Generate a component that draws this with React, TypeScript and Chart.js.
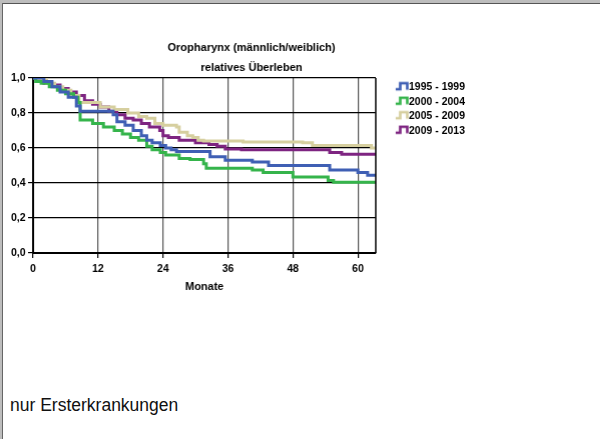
import { useEffect, useRef } from 'react';
import { Chart, registerables } from 'chart.js';

Chart.register(...registerables);

const FONT = "'Liberation Sans', Arial, sans-serif";

const titleLines = ['Oropharynx (männlich/weiblich)', 'relatives Überleben'];
const xAxisTitle = 'Monate';
const footnote = 'nur Ersterkrankungen';

const seriesLabels = ['1995 - 1999', '2000 - 2004', '2005 - 2009', '2009 - 2013'];
const seriesColors = ['#3f5fb4', '#35b44b', '#d6cf9f', '#7e2481'];

const xTickValues = [0, 12, 24, 36, 48, 60];
const xMax = 63.3;
const yTickValues = [0, 0.2, 0.4, 0.6, 0.8, 1.0];
const yTickLabels = ['0,0', '0,2', '0,4', '0,6', '0,8', '1,0'];

const blueMonths = [0, 2, 3.5, 5, 6.5, 8, 8.7, 14.8, 15.5, 17, 18.5, 20, 21, 22, 23.5, 24.5, 25.5, 26.5, 32.7, 35.5, 40.5, 43.5, 54.8, 60, 61.8, 63.3];
const blueValues = [1.0, 0.98, 0.95, 0.92, 0.89, 0.84, 0.81, 0.79, 0.75, 0.73, 0.70, 0.67, 0.645, 0.63, 0.615, 0.60, 0.59, 0.58, 0.55, 0.53, 0.52, 0.50, 0.475, 0.46, 0.445, 0.445];

const greenMonths = [0, 0.5, 1.5, 3, 4.5, 6, 7.5, 8.3, 8.7, 11, 13, 15, 16.5, 18, 19.5, 21, 22, 23.5, 24.5, 27, 29, 31.5, 32, 40.5, 42.5, 48, 54.5, 55.5, 63.3];
const greenValues = [1.0, 0.98, 0.97, 0.95, 0.93, 0.91, 0.89, 0.86, 0.76, 0.74, 0.72, 0.70, 0.68, 0.66, 0.645, 0.61, 0.59, 0.575, 0.56, 0.54, 0.535, 0.51, 0.485, 0.475, 0.46, 0.435, 0.415, 0.405, 0.405];

const khakiMonths = [0, 1, 2.5, 4, 5.5, 7, 8.5, 12.4, 15, 17.5, 19.5, 21, 22.5, 24, 26.5, 27, 28.5, 29.5, 30.5, 31.5, 38.8, 49.8, 51.6, 62.5, 63.3];
const khakiValues = [1.0, 0.99, 0.97, 0.95, 0.93, 0.90, 0.86, 0.835, 0.82, 0.80, 0.78, 0.77, 0.74, 0.73, 0.72, 0.69, 0.67, 0.66, 0.645, 0.64, 0.635, 0.63, 0.615, 0.60, 0.60];

const purpleMonths = [0, 1, 2, 3.5, 5, 6.5, 8, 9.5, 11, 12.4, 14, 15.5, 17, 18.5, 20, 21.5, 23.4, 24, 25, 27, 30, 32.5, 34, 35.5, 38.5, 54.8, 57, 63.3];
const purpleValues = [1.0, 0.99, 0.97, 0.96, 0.94, 0.92, 0.90, 0.87, 0.85, 0.835, 0.81, 0.79, 0.77, 0.76, 0.74, 0.72, 0.70, 0.67, 0.66, 0.645, 0.63, 0.62, 0.61, 0.595, 0.59, 0.575, 0.565, 0.565];

const seriesMonths = [blueMonths, greenMonths, khakiMonths, purpleMonths];
const seriesValues = [blueValues, greenValues, khakiValues, purpleValues];

function makeIcon(color: string): HTMLCanvasElement {
  const c = document.createElement('canvas');
  c.width = 36;
  c.height = 12;
  const ctx = c.getContext('2d')!;
  ctx.strokeStyle = color;
  ctx.lineWidth = 2.6;
  ctx.lineJoin = 'miter';
  ctx.beginPath();
  ctx.moveTo(22, 8);
  ctx.lineTo(26.5, 8);
  ctx.lineTo(26.5, 2);
  ctx.lineTo(33.5, 2);
  ctx.lineTo(33.5, 8.5);
  ctx.stroke();
  return c;
}

const framePlugin = {
  id: 'rightFrame',
  afterDatasetsDraw(chart: any) {
    const { ctx, chartArea } = chart;
    ctx.save();
    ctx.strokeStyle = '#000';
    ctx.lineWidth = 1.5;
    ctx.beginPath();
    ctx.moveTo(chartArea.right, chartArea.top);
    ctx.lineTo(chartArea.right, chartArea.bottom);
    ctx.stroke();
    ctx.restore();
  },
};

export default function App() {
  const ref = useRef<HTMLCanvasElement | null>(null);

  useEffect(() => {
    if (!ref.current) return;
    const datasets = seriesLabels.map((label, i) => ({
      label,
      data: seriesMonths[i].map((m, j) => ({ x: m, y: seriesValues[i][j] })),
      borderColor: seriesColors[i],
      backgroundColor: seriesColors[i],
      borderWidth: 3,
      pointRadius: 0,
      pointHoverRadius: 0,
      pointStyle: makeIcon(seriesColors[i]),
      stepped: true,
      fill: false,
      yAxisID: 'y',
    }));

    const chart = new Chart(ref.current, {
      type: 'line',
      data: { datasets } as any,
      options: {
        animation: false,
        responsive: true,
        maintainAspectRatio: false,
        layout: { padding: { left: 8.4, right: 0, top: 0, bottom: 4.2 } },
        plugins: {
          title: {
            display: true,
            text: titleLines,
            color: '#000',
            font: { family: FONT, size: 11, weight: 'bold', lineHeight: 1.8 },
            padding: { top: 38.4, bottom: 0 },
          },
          legend: {
            display: true,
            position: 'right',
            align: 'start',
            fullSize: false,
            labels: {
              usePointStyle: true,
              pointStyleWidth: 23.75,
              padding: 4,
              color: '#000',
              font: { family: FONT, size: 10.5, weight: 'bold' },
            },
          },
          tooltip: { enabled: false },
        },
        scales: {
          x: {
            type: 'linear',
            min: 0,
            max: xMax,
            afterBuildTicks: (scale: any) => {
              scale.ticks = xTickValues.map((v) => ({ value: v }));
            },
            ticks: {
              callback: (v: any) => String(v),
              color: '#000',
              font: { family: FONT, size: 10.5, weight: 'bold' },
              padding: 5,
              maxRotation: 0,
              autoSkip: false,
            },
            grid: { color: '#555', lineWidth: 1.2, tickLength: 5, tickColor: '#000', drawTicks: true },
            border: { display: true, color: '#000', width: 2 },
            title: {
              display: true,
              text: xAxisTitle,
              color: '#000',
              font: { family: FONT, size: 11, weight: 'bold' },
              padding: { top: 0, bottom: 2 },
            },
          },
          y: {
            type: 'linear',
            position: 'left',
            min: 0,
            max: 1,
            afterBuildTicks: (scale: any) => {
              scale.ticks = yTickValues.map((v) => ({ value: v }));
            },
            afterFit: (scale: any) => {
              scale.width = 24.6;
            },
            ticks: {
              callback: (v: any) => yTickLabels[yTickValues.indexOf(v)] ?? '',
              color: '#000',
              font: { family: FONT, size: 10.5, weight: 'bold' },
              padding: 2.5,
              autoSkip: false,
            },
            grid: { color: '#000', lineWidth: 1.2, tickLength: 5, tickColor: '#000', drawTicks: true },
            border: { display: true, color: '#000', width: 2 },
          },
          spacer: {
            type: 'linear',
            axis: 'y',
            position: 'right',
            weight: 2000,
            display: false,
            afterFit: (scale: any) => {
              scale.width = 19.6;
            },
          },
        },
      } as any,
      plugins: [framePlugin],
    });
    return () => chart.destroy();
  }, []);

  return (
    <div style={{ position: 'absolute', left: 0, top: 0, width: 600, height: 439, background: '#fff', overflow: 'hidden' }}>
      <div style={{ position: 'absolute', left: 0, top: 0, width: 600, height: 3, background: '#bdbdbd' }} />
      <div style={{ position: 'absolute', left: 0, top: 3, width: 600, height: 1, background: '#555' }} />
      <div style={{ position: 'absolute', left: 0, top: 0, width: 2, height: 439, background: '#bdbdbd' }} />
      <div style={{ position: 'absolute', left: 2, top: 3, width: 1, height: 436, background: '#666' }} />
      <div style={{ position: 'absolute', left: 0, top: 0, width: 493.6, height: 300 }}>
        <canvas ref={ref} />
      </div>
      <div
        style={{
          position: 'absolute',
          left: 10,
          top: 395,
          fontFamily: FONT,
          fontSize: 17.5,
          lineHeight: '20px',
          color: '#111',
          whiteSpace: 'nowrap',
        }}
      >
        {footnote}
      </div>
    </div>
  );
}
